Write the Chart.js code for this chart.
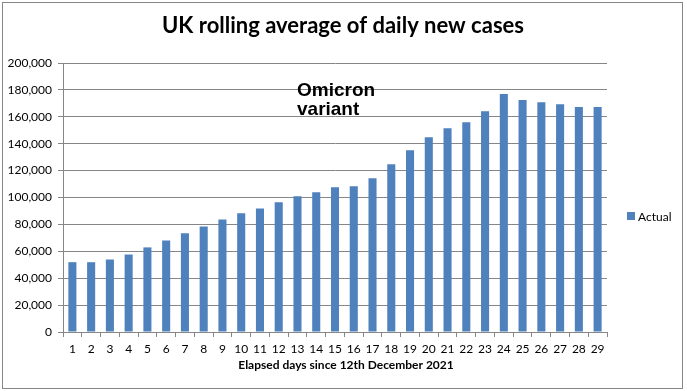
<!DOCTYPE html>
<html lang="en">

<head>
    <meta charset="UTF-8">
    <title>UK rolling average of daily new cases</title>
    <script src="https://cdn.jsdelivr.net/npm/chart.js"></script>
    <style>
        html, body {
            margin: 0;
            padding: 0;
            background: #fff;
        }
        #wrap {
            width: 687px;
            height: 391px;
        }
    </style>
</head>

<body>
    <div id="wrap">
        <canvas id="casesChart" width="687" height="391"></canvas>
    </div>

    <script>
        const days = ['1', '2', '3', '4', '5', '6', '7', '8', '9', '10', '11', '12', '13', '14', '15',
            '16', '17', '18', '19', '20', '21', '22', '23', '24', '25', '26', '27', '28', '29'];
        const actualCases = [51900, 51900, 53900, 57600, 62900, 68100, 73500, 78500, 83700, 88200,
            91900, 96400, 100900, 103900, 107600, 108300, 114300, 124700, 135100, 144800,
            151500, 156000, 164200, 176900, 172400, 170900, 169400, 167200, 167200];
        const yTicks = [0, 20000, 40000, 60000, 80000, 100000, 120000, 140000, 160000, 180000, 200000];
        const seriesName = 'Actual';
        const chartTitle = 'UK rolling average of daily new cases';
        const xTitle = 'Elapsed days since 12th December 2021';
        const noteLines = ['Omicron', 'variant'];

        const barColor = '#4F81BD';
        const lineColor = '#868686';
        const font = 'Lato, "DejaVu Sans", sans-serif';

        // border, title, legend, axis title and text box drawn on top
        const extras = {
            id: 'extras',
            afterDraw(chart) {
                const ctx = chart.ctx;
                ctx.save();
                ctx.strokeStyle = lineColor;
                ctx.lineWidth = 1;
                ctx.strokeRect(2.5, 2.5, 680, 386);

                // chart title, centred on the whole chart
                ctx.fillStyle = '#000';
                ctx.font = 'bold 22px ' + font;
                ctx.textAlign = 'center';
                ctx.textBaseline = 'alphabetic';
                ctx.fillText(chartTitle, 343, 33);

                // legend
                const midY = 216;
                ctx.fillStyle = barColor;
                ctx.fillRect(627, midY - 4, 8, 8);
                ctx.fillStyle = '#000';
                ctx.font = '12px ' + font;
                ctx.textBaseline = 'middle';
                ctx.textAlign = 'left';
                ctx.fillText(seriesName, 638, midY + 1);

                // x axis title
                ctx.font = 'bold 12px ' + font;
                ctx.textAlign = 'center';
                ctx.fillText(xTitle, 346, 365);

                // Omicron note
                ctx.font = 'bold 19px "Liberation Sans", Arial, sans-serif';
                ctx.textAlign = 'left';
                ctx.textBaseline = 'alphabetic';
                ctx.fillText(noteLines[0], 297, 96);
                ctx.fillText(noteLines[1], 297, 115);
                ctx.restore();
            }
        };

        new Chart(document.getElementById('casesChart'), {
            type: 'bar',
            data: {
                labels: days,
                datasets: [{
                    label: seriesName,
                    data: actualCases,
                    backgroundColor: barColor,
                    categoryPercentage: 1,
                    barPercentage: 0.43
                }]
            },
            options: {
                responsive: false,
                animation: false,
                layout: {
                    padding: { left: 0, right: 80, top: 63, bottom: 0 }
                },
                plugins: {
                    legend: { display: false },
                    tooltip: { enabled: false },
                    title: { display: false }
                },
                scales: {
                    x: {
                        afterFit(scale) { scale.height = 59; },
                        grid: {
                            offset: true,
                            drawOnChartArea: false,
                            drawTicks: true,
                            tickLength: 5,
                            color: lineColor
                        },
                        border: { display: true, color: lineColor },
                        ticks: {
                            color: '#000',
                            font: { family: font, size: 12 },
                            padding: 5,
                            maxRotation: 0,
                            autoSkip: false
                        }
                    },
                    y: {
                        min: 0,
                        max: 200000,
                        afterFit(scale) { scale.width = 63; },
                        afterBuildTicks(scale) {
                            scale.ticks = yTicks.map(v => ({ value: v }));
                        },
                        grid: {
                            color: lineColor,
                            tickLength: 5
                        },
                        border: { display: true, color: lineColor },
                        ticks: {
                            color: '#000',
                            font: { family: font, size: 12 },
                            padding: 6,
                            callback: v => v.toLocaleString('en-GB')
                        }
                    }
                }
            },
            plugins: [extras]
        });
    </script>
</body>

</html>
